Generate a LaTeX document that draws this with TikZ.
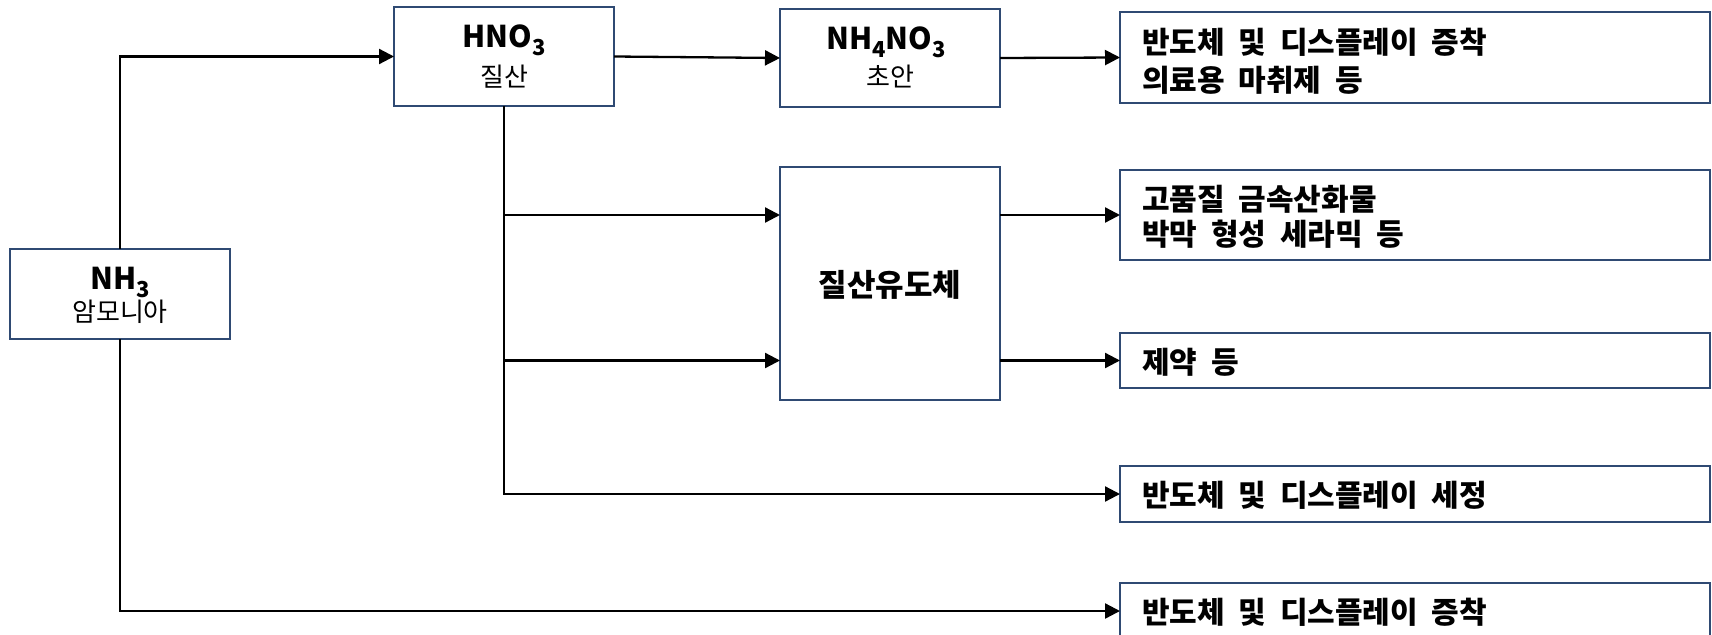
\documentclass[tikz,border=0pt]{standalone}
\usepackage{fontspec}
\setmainfont[WordSpace=2]{Noto Sans CJK KR}
\usetikzlibrary{arrows.meta}
\definecolor{boxblue}{HTML}{2F4A73}
\newcommand\chemsub[1]{\raisebox{-8pt}{\fontsize{22}{22}\selectfont #1}}
\tikzset{
  frame/.style={draw=boxblue, line width=1.5pt, fill=white, inner sep=0pt, outer sep=0pt},
  conn/.style={draw=black, line width=2.3pt, -{Triangle[length=15pt,width=15pt]}},
  chem/.style={inner sep=0pt, anchor=base, font=\fontsize{30}{30}\selectfont\bfseries},
  kor/.style={inner sep=0pt, anchor=base, font=\fontsize{26}{26}\selectfont},
  bigkor/.style={inner sep=0pt, anchor=base, font=\fontsize{31}{31}\selectfont\bfseries},
  rtxt/.style={inner sep=0pt, anchor=base west, font=\fontsize{30}{30}\selectfont\bfseries},
}
\begin{document}
\begin{tikzpicture}[x=1pt, y=-1pt]
\useasboundingbox (0,0) rectangle (1712,634);
\clip (0,0) rectangle (1712,634);
% frames
\node[frame, minimum width=220pt, minimum height=90pt] (nh3) at (120,294) {};
\node[frame, minimum width=220pt, minimum height=99pt] (hno3) at (504,56.5) {};
\node[frame, minimum width=220pt, minimum height=98pt] (nh4) at (890,58) {};
\node[frame, minimum width=220pt, minimum height=233pt] (deriv) at (890,283.5) {};
\node[frame, minimum width=590pt, minimum height=91pt] (b1) at (1415,57.5) {};
\node[frame, minimum width=590pt, minimum height=90pt] (b2) at (1415,215) {};
\node[frame, minimum width=590pt, minimum height=55pt] (b3) at (1415,360.5) {};
\node[frame, minimum width=590pt, minimum height=56pt] (b4) at (1415,494) {};
\node[frame, minimum width=590pt, minimum height=56pt] (b5) at (1415,611) {};
% connectors
\draw[conn] (nh3.north) |- (hno3.west);
\draw[conn] (hno3.east) -- (nh4.west);
\draw[conn] (nh4.east) -- (b1.west);
\draw[conn] (hno3.south) |- (b4.west);
\draw[conn] (hno3.south |- b2.west) -- (deriv.west |- b2.west);
\draw[conn] (hno3.south |- b3.west) -- (deriv.west |- b3.west);
\draw[conn] (deriv.east |- b2.west) -- (b2.west);
\draw[conn] (deriv.east |- b3.west) -- (b3.west);
\draw[conn] (nh3.south) |- (b5.west);
% texts
\node[chem] (nh3f) at (120,289) {NH\chemsub{3}};
\node[kor] (nh3k) at (120,321) {암모니아};
\node[chem] (hno3f) at (504,48) {HNO\chemsub{3}};
\node[kor] (hno3k) at (504,86) {질산};
\node[chem] (nh4f) at (886,50) {NH\chemsub{4}NO\chemsub{3}};
\node[kor] (nh4k) at (890,86) {초안};
\node[bigkor] (derivt) at (890,296) {질산유도체};
\node[rtxt] (b1a) at (1142,53) {반도체 및 디스플레이 증착};
\node[rtxt] (b1b) at (1142,91) {의료용 마취제 등};
\node[rtxt] (b2a) at (1142,210) {고품질 금속산화물};
\node[rtxt] (b2b) at (1142,245) {박막 형성 세라믹 등};
\node[rtxt] (b3a) at (1142,373) {제약 등};
\node[rtxt] (b4a) at (1142,506) {반도체 및 디스플레이 세정};
\node[rtxt] (b5a) at (1142,623) {반도체 및 디스플레이 증착};
\end{tikzpicture}
\end{document}
